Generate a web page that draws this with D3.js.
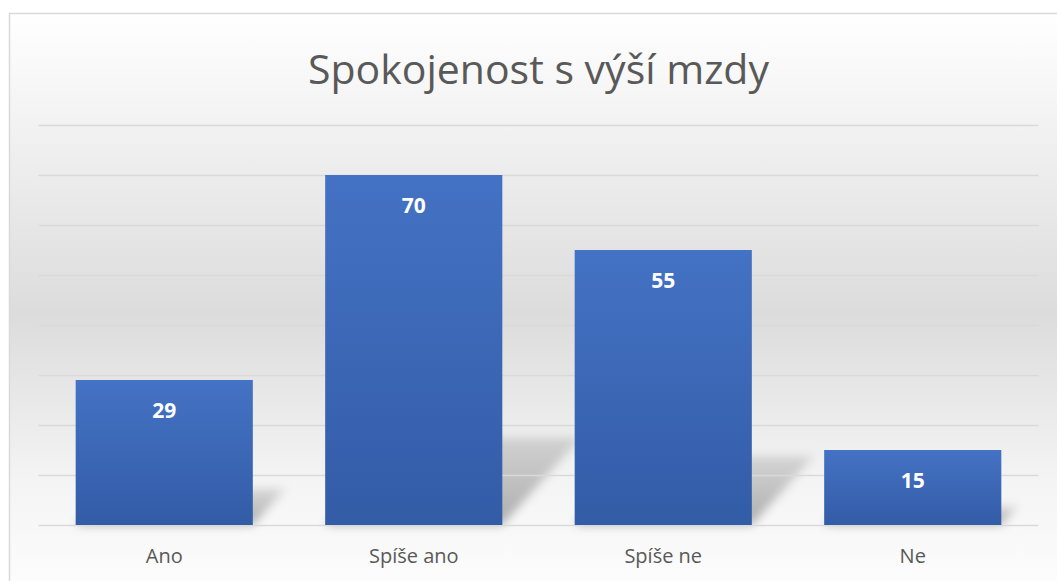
<!DOCTYPE html>
<html>
<head>
<meta charset="utf-8">
<script src="https://cdn.jsdelivr.net/npm/d3@7"></script>
<style>
  body { margin: 0; background: #fff; }
  svg { display: block; }
</style>
</head>
<body>
<svg width="1057" height="581"></svg>
<script>
// chart data
const categories = ['Ano', 'Spíše ano', 'Spíše ne', 'Ne'];
const values = [29, 70, 55, 15];
const yTicks = [0, 10, 20, 30, 40, 50, 60, 70, 80];
const title = 'Spokojenost s výší mzdy';

const svg = d3.select('svg');
const data = categories.map((c, i) => ({cat: c, value: values[i]}));

const plot = {left: 39.5, right: 1037.5, top: 125, bottom: 525};

const defs = svg.append('defs');

// background gradient (white -> grey -> white)
const bg = defs.append('linearGradient')
  .attr('id', 'bg').attr('x1', 0).attr('y1', 0).attr('x2', 0).attr('y2', 1);
bg.append('stop').attr('offset', '0%').attr('stop-color', '#ffffff');
bg.append('stop').attr('offset', '50%').attr('stop-color', '#dcdcdc');
bg.append('stop').attr('offset', '78%').attr('stop-color', '#f4f4f4');
bg.append('stop').attr('offset', '100%').attr('stop-color', '#ffffff');

const barGrad = defs.append('linearGradient')
  .attr('id', 'bar').attr('x1', 0).attr('y1', 0).attr('x2', 0).attr('y2', 1);
barGrad.append('stop').attr('offset', '0%').attr('stop-color', '#4472c4');
barGrad.append('stop').attr('offset', '100%').attr('stop-color', '#335ca7');

// shadow fades as it goes up
const shGrad = defs.append('linearGradient')
  .attr('id', 'shadow').attr('x1', 0).attr('y1', 1).attr('x2', 0).attr('y2', 0);
shGrad.append('stop').attr('offset', '0%').attr('stop-color', '#000').attr('stop-opacity', 0.3);
shGrad.append('stop').attr('offset', '100%').attr('stop-color', '#000').attr('stop-opacity', 0.12);

defs.append('filter').attr('id', 'blur')
  .attr('x', '-50%').attr('y', '-50%').attr('width', '200%').attr('height', '200%')
  .append('feGaussianBlur').attr('stdDeviation', 5);

// chart frame
svg.append('rect')
  .attr('x', 9.5).attr('y', 13.5)
  .attr('width', 1100).attr('height', 600)
  .attr('fill', 'url(#bg)')
  .attr('stroke', '#d9d9d9')
  .attr('stroke-width', 1.5);

// scales
const x = d3.scaleBand()
  .domain(categories)
  .range([plot.left, plot.right])
  .paddingInner(0.29)
  .paddingOuter(0.145);

const y = d3.scaleLinear()
  .domain([0, 80])
  .range([plot.bottom, plot.top]);

// perspective shadows behind bars
svg.append('g').selectAll('path')
  .data(data)
  .enter()
  .append('path')
  .attr('d', d => {
    const x0 = x(d.cat), x1 = x0 + x.bandwidth();
    const sh = (y(0) - y(d.value)) * 0.25;
    const s = sh * 0.9;
    return `M${x0},${y(0)} L${x1},${y(0)} L${x1 + s},${y(0) - sh} L${x0 + s},${y(0) - sh} Z`;
  })
  .attr('fill', 'url(#shadow)')
  .attr('filter', 'url(#blur)');

// gridlines
const yAxis = d3.axisLeft(y)
  .tickValues(yTicks)
  .tickSize(-(plot.right - plot.left) - 2)
  .tickFormat('');

const grid = svg.append('g')
  .attr('transform', `translate(${plot.left - 1},0)`)
  .call(yAxis);
grid.select('.domain').remove();
grid.selectAll('line')
  .attr('stroke', '#d9d9d9')
  .attr('stroke-width', 1.5);

// bars
svg.append('g').selectAll('rect')
  .data(data)
  .enter()
  .append('rect')
  .attr('x', d => x(d.cat))
  .attr('y', d => y(d.value))
  .attr('width', x.bandwidth())
  .attr('height', d => y(0) - y(d.value))
  .attr('fill', 'url(#bar)');

// value labels
svg.append('g').selectAll('text')
  .data(data)
  .enter()
  .append('text')
  .attr('x', d => x(d.cat) + x.bandwidth() / 2)
  .attr('y', d => y(d.value) + 38)
  .attr('text-anchor', 'middle')
  .attr('font-family', 'Open Sans, Noto Sans, sans-serif')
  .attr('font-weight', 'bold')
  .attr('font-size', 21)
  .attr('fill', '#ffffff')
  .text(d => d.value);

// category labels
const xAxis = d3.axisBottom(x).tickSize(0).tickPadding(24);
const xg = svg.append('g')
  .attr('transform', `translate(0,${plot.bottom})`)
  .call(xAxis);
xg.select('.domain').remove();
xg.selectAll('text')
  .attr('font-family', 'Open Sans, Noto Sans, sans-serif')
  .attr('font-size', 20)
  .attr('fill', '#595959');

// title
svg.append('text')
  .attr('x', (plot.left + plot.right) / 2)
  .attr('y', 84)
  .attr('text-anchor', 'middle')
  .attr('font-family', 'Open Sans, Noto Sans, sans-serif')
  .attr('font-size', 41)
  .attr('fill', '#595959')
  .text(title);
</script>
</body>
</html>
